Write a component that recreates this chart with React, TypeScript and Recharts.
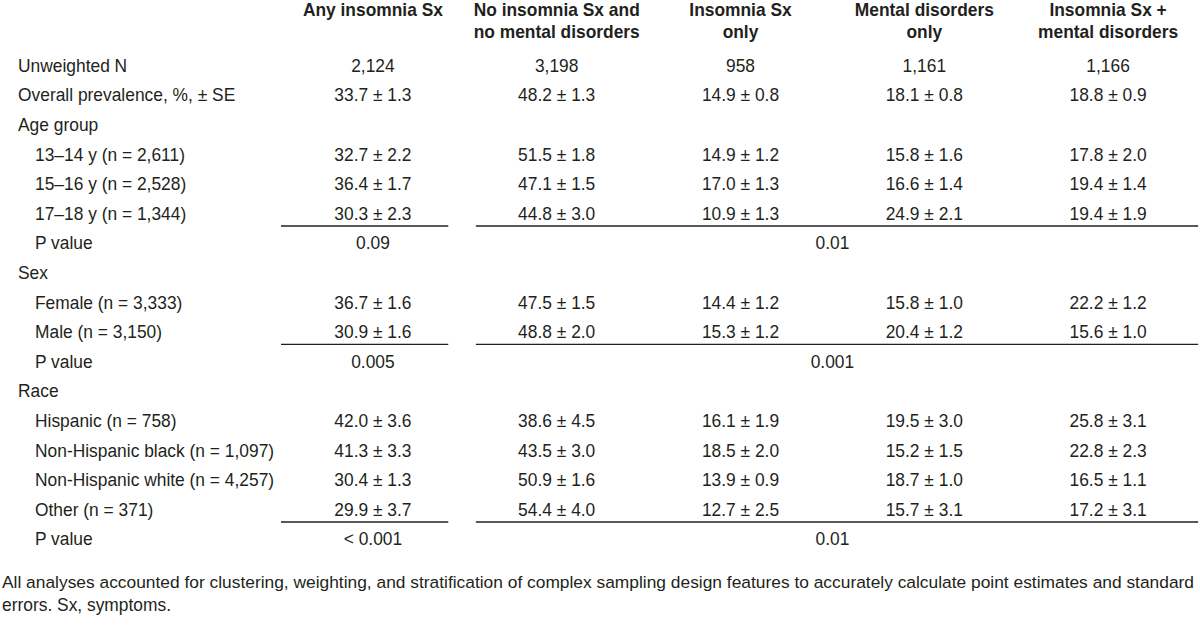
import React from "react";
import { ScatterChart, Scatter, XAxis, YAxis, ReferenceLine, Customized } from "recharts";

// ---------- data ----------
const COLUMN_HEADERS: string[][] = [
  ["Any insomnia Sx"],
  ["No insomnia Sx and", "no mental disorders"],
  ["Insomnia Sx", "only"],
  ["Mental disorders", "only"],
  ["Insomnia Sx +", "mental disorders"],
];

const ROW_KEYS = [
  "n", "overall", "ageHdr", "age1314", "age1516", "age1718", "pAge",
  "sexHdr", "female", "male", "pSex",
  "raceHdr", "hispanic", "nhBlack", "nhWhite", "other", "pRace",
];
const ROW_LABELS = [
  "Unweighted N", "Overall prevalence, %, ± SE", "Age group",
  "13–14 y (n = 2,611)", "15–16 y (n = 2,528)", "17–18 y (n = 1,344)", "P value",
  "Sex", "Female (n = 3,333)", "Male (n = 3,150)", "P value",
  "Race", "Hispanic (n = 758)", "Non-Hispanic black (n = 1,097)",
  "Non-Hispanic white (n = 4,257)", "Other (n = 371)", "P value",
];
const ROW_IS_SUB = [false, false, false, true, true, true, true, false, true, true, true, false, true, true, true, true, true];

const UNWEIGHTED_N = [2124, 3198, 958, 1161, 1166];

const PCT_ROW_KEYS = ["overall", "age1314", "age1516", "age1718", "female", "male", "hispanic", "nhBlack", "nhWhite", "other"];

const ANY_INSOMNIA_MEAN = [33.7, 32.7, 36.4, 30.3, 36.7, 30.9, 42.0, 41.3, 30.4, 29.9];
const ANY_INSOMNIA_SE = [1.3, 2.2, 1.7, 2.3, 1.6, 1.6, 3.6, 3.3, 1.3, 3.7];
const NEITHER_MEAN = [48.2, 51.5, 47.1, 44.8, 47.5, 48.8, 38.6, 43.5, 50.9, 54.4];
const NEITHER_SE = [1.3, 1.8, 1.5, 3.0, 1.5, 2.0, 4.5, 3.0, 1.6, 4.0];
const INSOMNIA_ONLY_MEAN = [14.9, 14.9, 17.0, 10.9, 14.4, 15.3, 16.1, 18.5, 13.9, 12.7];
const INSOMNIA_ONLY_SE = [0.8, 1.2, 1.3, 1.3, 1.2, 1.2, 1.9, 2.0, 0.9, 2.5];
const MENTAL_ONLY_MEAN = [18.1, 15.8, 16.6, 24.9, 15.8, 20.4, 19.5, 15.2, 18.7, 15.7];
const MENTAL_ONLY_SE = [0.8, 1.6, 1.4, 2.1, 1.0, 1.2, 3.0, 1.5, 1.0, 3.1];
const BOTH_MEAN = [18.8, 17.8, 19.4, 19.4, 22.2, 15.6, 25.8, 22.8, 16.5, 17.2];
const BOTH_SE = [0.9, 2.0, 1.4, 1.9, 1.2, 1.0, 3.1, 2.3, 1.1, 3.1];

const P_ROW_KEYS = ["pAge", "pSex", "pRace"];
const P_ANY_INSOMNIA = ["0.09", "0.005", "< 0.001"];
const P_FOUR_GROUPS = ["0.01", "0.001", "0.01"];
const RULE_AFTER_ROWS = ["age1718", "male", "other"];

const FOOTNOTE = [
  "All analyses accounted for clustering, weighting, and stratification of complex sampling design features to accurately calculate point estimates and standard",
  "errors. Sx, symptoms.",
];

// ---------- table construction ----------
const MEANS = [ANY_INSOMNIA_MEAN, NEITHER_MEAN, INSOMNIA_ONLY_MEAN, MENTAL_ONLY_MEAN, BOTH_MEAN];
const SES = [ANY_INSOMNIA_SE, NEITHER_SE, INSOMNIA_ONLY_SE, MENTAL_ONLY_SE, BOTH_SE];
const rowIdx = (k: string) => ROW_KEYS.indexOf(k);

type Cell = { x: number; y: number; text: string };
const cells: Cell[] = [];
COLUMN_HEADERS.forEach((_, c) => {
  cells.push({ x: c + 1, y: rowIdx("n"), text: UNWEIGHTED_N[c].toLocaleString("en-US") });
  PCT_ROW_KEYS.forEach((k, i) => {
    cells.push({ x: c + 1, y: rowIdx(k), text: `${MEANS[c][i].toFixed(1)} ± ${SES[c][i].toFixed(1)}` });
  });
});
const pCells: Cell[] = [];
P_ROW_KEYS.forEach((k, i) => {
  pCells.push({ x: 1, y: rowIdx(k), text: P_ANY_INSOMNIA[i] });
  pCells.push({ x: (2 + COLUMN_HEADERS.length) / 2, y: rowIdx(k), text: P_FOUR_GROUPS[i] });
});

// ---------- style ----------
const FONT = "'Liberation Sans', Arial, Helvetica, sans-serif";
const FS = 18.7;
const SX = 0.93;
const CAP_HALF = 6.7;
const INK = "#231f20";
const W = 1200;
const H = 626;
const Y_AXIS_W = 281;
const X_AXIS_H = 50.2;
const BOTTOM = 72.6;

const CellText = (props: any) => {
  const { cx, cy, payload } = props;
  if (cx == null || cy == null) return <g />;
  return (
    <text
      transform={`translate(${cx},${cy + CAP_HALF}) scale(${SX},1)`}
      textAnchor="middle"
      fontFamily={FONT}
      fontSize={FS}
      fill={INK}
    >
      {payload.text}
    </text>
  );
};

const HeaderTick = (props: any) => {
  const { x, y, payload } = props;
  const lines = COLUMN_HEADERS[payload.value - 1] || [];
  return (
    <g>
      {lines.map((l, i) => (
        <text
          key={i}
          transform={`translate(${x},${y - 33.8 + i * 22}) scale(${SX},1)`}
          textAnchor="middle"
          fontFamily={FONT}
          fontSize={FS}
          fontWeight="bold"
          fill={INK}
        >
          {l}
        </text>
      ))}
    </g>
  );
};

const RowTick = (props: any) => {
  const { x, y, payload } = props;
  const i = payload.value as number;
  const left = x - Y_AXIS_W + 18 + (ROW_IS_SUB[i] ? 17 : 0);
  return (
    <text
      transform={`translate(${left},${y + CAP_HALF}) scale(${SX},1)`}
      textAnchor="start"
      fontFamily={FONT}
      fontSize={FS}
      fill={INK}
    >
      {ROW_LABELS[i]}
    </text>
  );
};

const FOOT_FS = 17.2;
const Footnote = () => (
  <g>
    <text
      x={2}
      y={588.4}
      textLength={1192}
      lengthAdjust="spacingAndGlyphs"
      fontFamily={FONT}
      fontSize={FOOT_FS}
      fill={INK}
    >
      {FOOTNOTE[0]}
    </text>
    <text
      transform={`translate(2,610.7) scale(${SX},1)`}
      fontFamily={FONT}
      fontSize={FS}
      fill={INK}
    >
      {FOOTNOTE[1]}
    </text>
  </g>
);

const RULE_OFFSET = 0.44;

export default function App() {
  const nCols = COLUMN_HEADERS.length;
  return (
    <div style={{ position: "absolute", left: 0, top: 0, width: W, height: H, background: "#fff" }}>
      <ScatterChart width={W} height={H} margin={{ top: 0, right: 0, bottom: BOTTOM, left: 0 }}>
        <XAxis
          type="number"
          dataKey="x"
          orientation="top"
          domain={[0.5, nCols + 0.5]}
          ticks={COLUMN_HEADERS.map((_, i) => i + 1)}
          interval={0}
          height={X_AXIS_H}
          axisLine={false}
          tickLine={false}
          tickSize={0}
          tickMargin={0}
          tick={<HeaderTick />}
          allowDataOverflow
        />
        <YAxis
          type="number"
          dataKey="y"
          reversed
          domain={[-0.5, ROW_KEYS.length - 0.5]}
          ticks={ROW_KEYS.map((_, i) => i)}
          interval={0}
          width={Y_AXIS_W}
          axisLine={false}
          tickLine={false}
          tickSize={0}
          tickMargin={0}
          tick={<RowTick />}
          allowDataOverflow
        />
        <Scatter data={cells} shape={<CellText />} isAnimationActive={false} />
        <Scatter data={pCells} shape={<CellText />} isAnimationActive={false} />
        {RULE_AFTER_ROWS.map((k) => {
          const yv = rowIdx(k) + RULE_OFFSET;
          return (
            <React.Fragment key={k}>
              <ReferenceLine
                segment={[{ x: 0.5, y: yv }, { x: 1.41, y: yv }]}
                stroke={INK}
                strokeWidth={1.3}
                ifOverflow="visible"
              />
              <ReferenceLine
                segment={[{ x: 1.56, y: yv }, { x: nCols + 0.49, y: yv }]}
                stroke={INK}
                strokeWidth={1.3}
                ifOverflow="visible"
              />
            </React.Fragment>
          );
        })}
        <Customized component={Footnote} />
      </ScatterChart>
    </div>
  );
}
